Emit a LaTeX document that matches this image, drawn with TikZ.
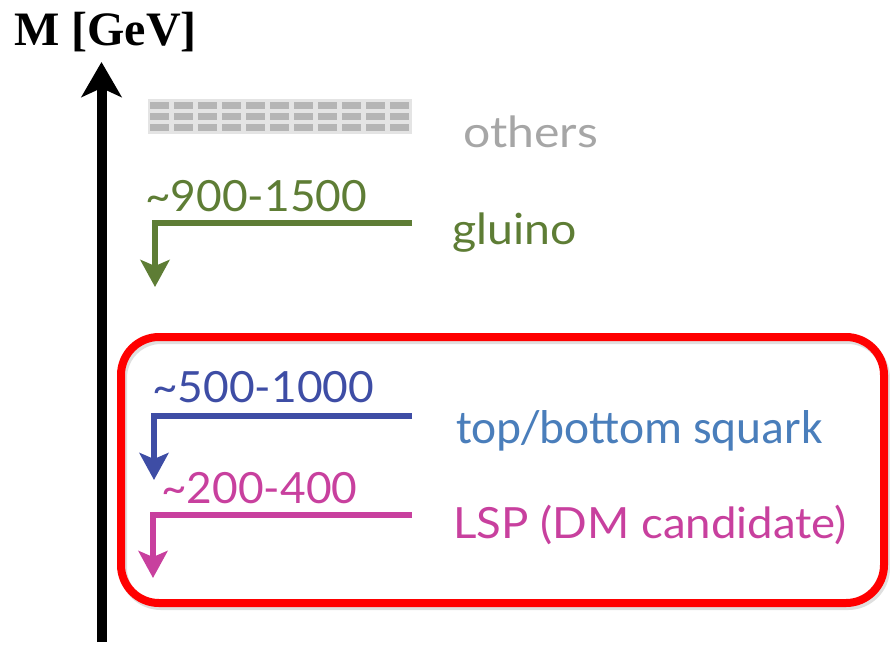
\documentclass[tikz,border=0pt]{standalone}
\usepackage{fontspec}
\setmainfont{Lato}
\newfontfamily\calfont{Carlito}
\newfontfamily\titlefont{Liberation Serif}
\usetikzlibrary{arrows.meta}
\definecolor{glu}{RGB}{94,125,53}
\definecolor{sqline}{RGB}{62,77,165}
\definecolor{sqtext}{RGB}{74,126,187}
\definecolor{lsp}{RGB}{200,64,158}
\definecolor{oth}{RGB}{166,166,166}
\newcommand{\wide}[2]{\scalebox{#1}[1]{#2}}
\tikzset{
  lbl/.style={anchor=base west, inner sep=0pt, font=\fontsize{43}{48}\selectfont},
  decay/.style={line width=6pt, line join=miter, -{Stealth[length=27pt,width=29pt,inset=6pt]}},
}
\begin{document}
\begin{tikzpicture}[x=1pt,y=-1pt]
\useasboundingbox (0,0) rectangle (890,645);
% axis
\coordinate (ab) at (101.5,642);
\coordinate (at) at (101.5,62);
\draw[line width=10pt, -{Stealth[length=35pt,width=40pt,inset=9pt]}] (ab) -- (at);
\node[anchor=base west, inner sep=0pt, font=\titlefont\bfseries\fontsize{48}{54}\selectfont] (mgev) at (14,45) {M [GeV]};
% others
\fill[oth!30] (148,99) rectangle (412,134);
\foreach \yy in {105,116,127}{
  \draw[oth!80!black!70, line width=7pt, dash pattern=on 19pt off 5pt, opacity=0.8] (150,\yy) -- (412,\yy);
}
\node[lbl, text=oth] (others) at (463,147) {\wide{1.12}{others}};
% gluino
\node[lbl, text=glu] (r1) at (145,211) {\wide{1.03}{\textasciitilde900-1500}};
\node[lbl, text=glu] (gl) at (452,244) {\wide{1.08}{gluino}};
\coordinate (g1) at (412,223);
\coordinate (g2) at (155,223);
\coordinate (g3) at (155,287);
\draw[decay, draw=glu] (g1) -- (g2) -- (g3);
% red box shadow and box
\draw[gray!50, line width=8pt, rounded corners=38pt, opacity=0.5] (123,340) rectangle (886,606);
\draw[red, line width=8pt, rounded corners=38pt] (121,337) rectangle (884,603);
% squark
\node[lbl, text=sqline] (r2) at (152,402) {\wide{1.03}{\textasciitilde500-1000}};
\node[anchor=base west, inner sep=0pt, text=sqtext, font=\calfont\fontsize{47.5}{52}\selectfont] (sq) at (456,443) {top/bottom squark};
\coordinate (s1) at (412,416);
\coordinate (s2) at (154,416);
\coordinate (s3) at (154,480);
\draw[decay, draw=sqline] (s1) -- (s2) -- (s3);
% LSP
\node[lbl, text=lsp] (r3) at (161,503) {\wide{1.03}{\textasciitilde200-400}};
\node[lbl, text=lsp] (lspn) at (453,538) {\wide{1.06}{LSP (DM candidate)}};
\coordinate (l1) at (412,515);
\coordinate (l2) at (153,515);
\coordinate (l3) at (153,578);
\draw[decay, draw=lsp] (l1) -- (l2) -- (l3);
\end{tikzpicture}
\end{document}
